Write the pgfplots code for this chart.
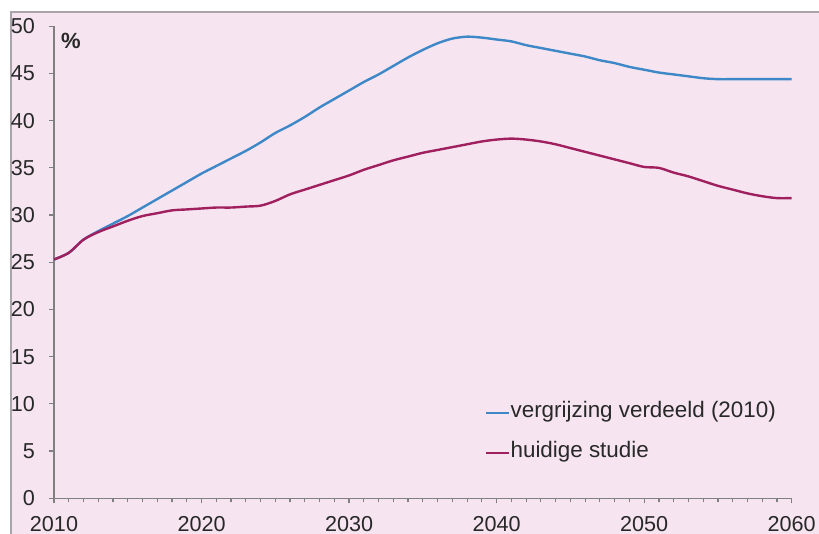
\documentclass[border=0pt]{standalone}
\usepackage{pgfplots}
\pgfplotsset{compat=1.18}
\usepackage{fontspec}
\setmainfont{Liberation Sans}
\definecolor{bgpink}{RGB}{246,229,240}
\definecolor{framegray}{RGB}{170,164,170}
\definecolor{axisgray}{RGB}{128,128,128}
\definecolor{textgray}{RGB}{40,40,40}
\definecolor{lineblue}{RGB}{62,136,200}
\definecolor{linepurple}{RGB}{160,32,95}
\pgfplotstableread{
year blue purple
2010 25.3 25.3
2011 26.0 26.0
2012 27.4 27.4
2013 28.3 28.2
2014 29.1 28.8
2015 29.9 29.4
2016 30.8 29.9
2017 31.7 30.2
2018 32.6 30.5
2019 33.5 30.6
2020 34.4 30.7
2021 35.2 30.8
2022 36.0 30.8
2023 36.8 30.9
2024 37.7 31.0
2025 38.7 31.5
2026 39.5 32.2
2027 40.4 32.7
2028 41.4 33.2
2029 42.3 33.7
2030 43.2 34.2
2031 44.1 34.8
2032 44.9 35.3
2033 45.8 35.8
2034 46.7 36.2
2035 47.5 36.6
2036 48.2 36.9
2037 48.7 37.2
2038 48.9 37.5
2039 48.8 37.8
2040 48.6 38.0
2041 48.4 38.1
2042 48.0 38.0
2043 47.7 37.8
2044 47.4 37.5
2045 47.1 37.1
2046 46.8 36.7
2047 46.4 36.3
2048 46.1 35.9
2049 45.7 35.5
2050 45.4 35.1
2051 45.1 35.0
2052 44.9 34.5
2053 44.7 34.1
2054 44.5 33.6
2055 44.4 33.1
2056 44.4 32.7
2057 44.4 32.3
2058 44.4 32.0
2059 44.4 31.8
2060 44.4 31.8
}\datatable
\begin{document}
\fontsize{10.8}{12}\selectfont
\begin{tikzpicture}
\useasboundingbox (0,0) rectangle (409.5pt,267pt);
\fill[white] (0,0) rectangle (409.5pt,267pt);
\fill[bgpink] (5.5pt,0) rectangle (409.5pt,261pt);
\draw[framegray, line width=0.9pt] (5.5pt,0) -- (5.5pt,261pt) -- (409.5pt,261pt);
\begin{axis}[
  at={(27pt,17.85pt)}, anchor=south west,
  scale only axis, width=368.85pt, height=236pt,
  xmin=2010, xmax=2060, ymin=0, ymax=50,
  axis x line*=bottom, axis y line*=left,
  axis line style={axisgray, line width=0.6pt},
  xtick={2010,2020,...,2060}, minor x tick num=9,
  ytick={0,5,...,50},
  tick align=outside, major tick length=2.5pt, minor tick length=2pt,
  tick style={axisgray, line width=0.6pt},
  /pgf/number format/set thousands separator={},
  /pgf/number format/assume math mode=true,
  ticklabel style={font=\fontsize{10.8}{12}\selectfont, text=textgray},
  xticklabel style={inner sep=0pt, anchor=north, yshift=-6.6pt},
  yticklabel style={inner sep=0pt, anchor=east, xshift=-6.8pt},
  clip=false,
  legend style={at={(rel axis cs:0.584,0.201)}, anchor=north west, draw=none, fill=none,
    inner sep=0pt, row sep=11pt, font=\fontsize{11.2}{12}\selectfont, text=textgray,
    nodes={inner sep=0pt, text height=7pt, text depth=2pt}},
  legend cell align=left,
  legend image code/.code={\draw[#1] (0pt,0pt) -- (11.5pt,0pt);},
]
\addplot[lineblue, line width=1.2pt, smooth] table[x=year, y=blue] {\datatable};
\addlegendentry{vergrijzing verdeeld (2010)}
\addplot[linepurple, line width=1.2pt, smooth] table[x=year, y=purple] {\datatable};
\addlegendentry{huidige studie}
\node[anchor=north west, inner sep=0pt, text=textgray, font=\bfseries\fontsize{11}{12}\selectfont] at (axis cs:2010.45,49.3) {\%};
\end{axis}
\end{tikzpicture}
\end{document}
